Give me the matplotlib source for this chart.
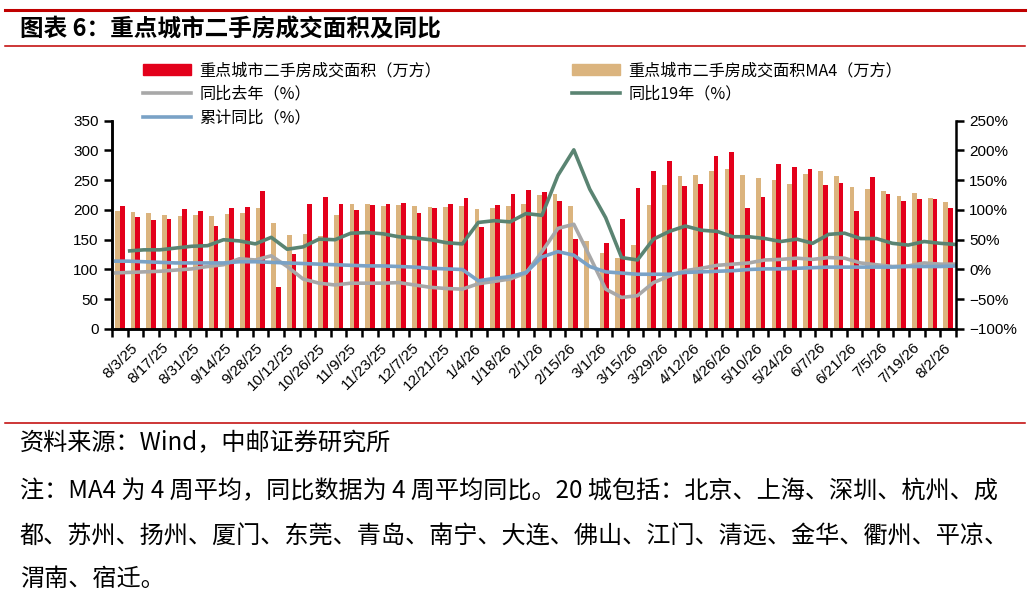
import numpy as np
import matplotlib.pyplot as plt
from matplotlib.patches import Patch
from matplotlib.lines import Line2D

plt.rcParams['font.family'] = ['Noto Sans CJK SC', 'DejaVu Sans']

# weekly data, first week 7/27/25 (unlabelled)
date_labels = ['8/3/25', '8/17/25', '8/31/25', '9/14/25', '9/28/25', '10/12/25', '10/26/25',
               '11/9/25', '11/23/25', '12/7/25', '12/21/25', '1/4/26', '1/18/26', '2/1/26',
               '2/15/26', '3/1/26', '3/15/26', '3/29/26', '4/12/26', '4/26/26', '5/10/26',
               '5/24/26', '6/7/26', '6/21/26', '7/5/26', '7/19/26', '8/2/26']

area = [207, 188, 183, 185, 202, 198, 173, 203, 205, 232,
        71, 126, 210, 222, 210, 200, 208, 210, 212, 195,
        203, 210, 220, 171, 208, 227, 234, 230, 215, 151,
        0, 145, 185, 237, 265, 282, 240, 244, 291, 297,
        203, 222, 277, 272, 269, 242, 245, 198, 255, 227,
        215, 218, 218, 203]

area_ma4 = [198, 197, 195, 192, 190, 192, 190, 193, 195, 203,
            178, 158, 160, 156, 192, 210, 210, 207, 208, 207,
            205, 205, 207, 202, 203, 207, 210, 225, 227, 207,
            148, 128, 119, 141, 208, 242, 257, 259, 266, 269,
            259, 254, 250, 244, 260, 266, 257, 239, 235, 232,
            224, 229, 220, 213]

yoy_last = [-6, -5, -4, -3, -1, 1, 5, 8, 18, 16,
            23, 5, -16, -23, -26, -23, -23, -23, -22, -26,
            -30, -32, -33, -24, -20, -16, -6, 30, 69, 76,
            22, -33, -47, -44, -22, -11, -2, 2, 7, 9,
            11, 16, 17, 19, 17, 20, 19, 11, 8, 5,
            6, 11, 9, 9]

yoy_19 = [np.nan, 31, 33, 33, 36, 39, 40, 50, 48, 43,
          54, 34, 38, 51, 50, 61, 62, 60, 55, 53,
          50, 45, 43, 79, 82, 80, 94, 91, 158, 201,
          135, 87, 20, 16, 51, 64, 73, 66, 64, 55,
          55, 52, 47, 51, 44, 59, 61, 52, 52, 44,
          41, 47, 44, 42]

yoy_cum = [14, 14, 13, 12, 11, 11, 11, 11, 13, 13,
           12, 11, 10, 9, 8, 7, 6, 6, 5, 4,
           2, 1, 0, -19, -15, -12, -5, 21, 30, 24,
           5, -4, -6, -8, -8, -8, -5, -4, -3, -2,
           0, 1, 1, 2, 3, 4, 4, 4, 4, 4,
           5, 5, 5, 6]

RED = '#E3001B'
TAN = '#DBB47E'
GREY = '#A8A8A8'
GREEN = '#5A8472'
BLUE = '#7AA2C6'
NUMFONT = 'Liberation Sans'

n = len(area)
x = np.arange(n)
# lines sit on the secondary category axis ("on tick marks")
xl = np.linspace(-0.5, n - 0.5, n)

fig = plt.figure(figsize=(10.3, 6.03), dpi=100)
W, H = 1030, 603

# header / footer decoration
fig.add_artist(Line2D([5 / W, 1025 / W], [1 - 9.5 / H] * 2, color='#C00000', lw=2.2))
fig.add_artist(Line2D([5 / W, 1025 / W], [1 - 46 / H] * 2, color='#C00000', lw=1.1))
fig.add_artist(Line2D([5 / W, 1025 / W], [1 - 423 / H] * 2, color='#C00000', lw=1.1))
fig.text(20 / W, 1 - 29 / H, '图表 6：重点城市二手房成交面积及同比', fontsize=17,
         fontweight='bold', va='center', ha='left')

ax = fig.add_axes([112 / W, 1 - 329 / H, (956 - 112) / W, (329 - 120.7) / H])
ax.bar(x - 0.15, area_ma4, width=0.3, color=TAN, zorder=2)
ax.bar(x + 0.15, area, width=0.3, color=RED, zorder=2)
ax.set_xlim(-0.5, n - 0.5)
ax.set_ylim(0, 350)
ax.set_yticks(np.arange(0, 351, 50))

ax.set_xticks(np.arange(-0.5, n, 1))
ax.set_xticklabels([])
ax.set_xticks(np.arange(1, n, 2), minor=True)
ax.set_xticklabels(date_labels, minor=True, rotation=45, ha='right', va='center',
                   rotation_mode='anchor', fontsize=11, family=NUMFONT)
ax.tick_params(axis='x', which='major', length=6, width=1.8, direction='out')
ax.tick_params(axis='x', which='minor', length=0, pad=12)
ax.tick_params(axis='y', length=6, width=1.8, labelsize=11)
for lab in ax.get_yticklabels():
    lab.set_family(NUMFONT)

ax2 = ax.twinx()
ax2.plot(xl, yoy_last, color=GREY, lw=2.6, solid_capstyle='butt')
ax2.plot(xl, yoy_19, color=GREEN, lw=2.6, solid_capstyle='butt')
ax2.plot(xl, yoy_cum, color=BLUE, lw=2.6, solid_capstyle='butt')
ax2.set_ylim(-100, 250)
ax2.set_yticks(np.arange(-100, 251, 50))
ax2.set_yticklabels([f'{v}%'.replace('-', '\u2212') for v in range(-100, 251, 50)],
                    family=NUMFONT, fontsize=11)
ax2.tick_params(axis='y', length=6, width=1.8)

for a in (ax, ax2):
    a.spines['top'].set_visible(False)
    for s in ('left', 'right', 'bottom'):
        a.spines[s].set_linewidth(1.8)
ax.spines['right'].set_visible(False)

# legends
h_red = Patch(color=RED)
h_tan = Patch(color=TAN)
h_grey = Line2D([], [], color=GREY, lw=2.6)
h_green = Line2D([], [], color=GREEN, lw=2.6)
h_blue = Line2D([], [], color=BLUE, lw=2.6)
leg_kw = dict(frameon=False, fontsize=11.6, handlelength=2.95, handleheight=0.65,
              handletextpad=0.55, labelspacing=0.42, borderpad=0, borderaxespad=0,
              loc='upper left')
fig.legend([h_red, h_grey, h_blue], ['重点城市二手房成交面积（万方）', '同比去年（%）', '累计同比（%）'],
           bbox_to_anchor=(143 / W, 1 - 62 / H), **leg_kw)
fig.legend([h_tan, h_green], ['重点城市二手房成交面积MA4（万方）', '同比19年（%）'],
           bbox_to_anchor=(572 / W, 1 - 62 / H), **leg_kw)

# notes
notes = ['资料来源：Wind，中邮证券研究所',
         '注：MA4 为 4 周平均，同比数据为 4 周平均同比。20 城包括：北京、上海、深圳、杭州、成',
         '都、苏州、扬州、厦门、东莞、青岛、南宁、大连、佛山、江门、清远、金华、衢州、平凉、',
         '渭南、宿迁。']
for txt, yy in zip(notes, [443, 491, 537, 579]):
    fig.text(20 / W, 1 - yy / H, txt, fontsize=17.4, va='center', ha='left')

fig.savefig('out.png', dpi=100)
